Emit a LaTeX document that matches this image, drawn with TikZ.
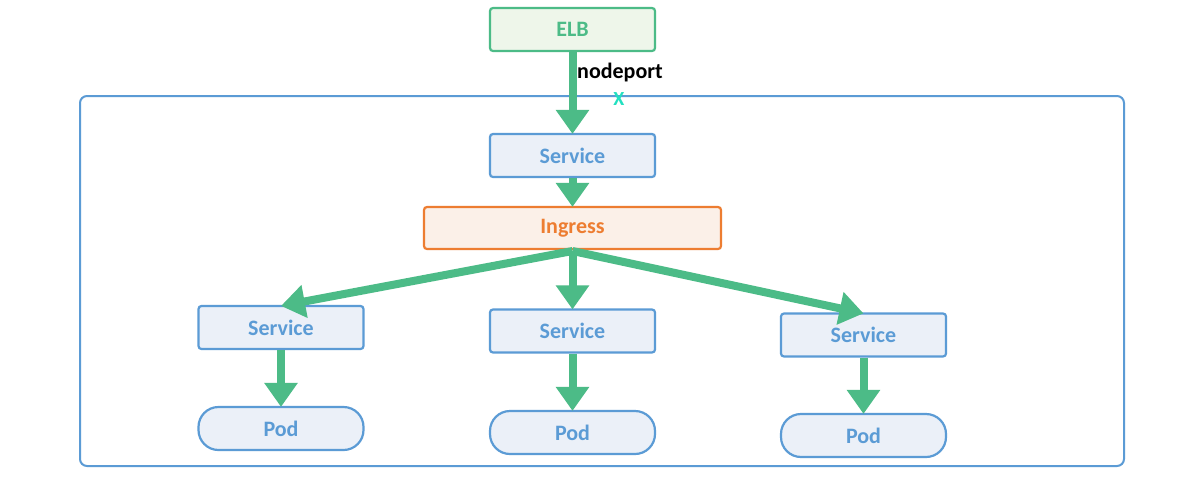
\documentclass[tikz,border=0pt]{standalone}
\usepackage{fontspec}
\setmainfont{Carlito}
\usetikzlibrary{arrows.meta}
\definecolor{grn}{HTML}{4CBB87}
\definecolor{grnfill}{HTML}{EEF6EA}
\definecolor{blu}{HTML}{5B9BD5}
\definecolor{blufill}{HTML}{EBF0F8}
\definecolor{org}{HTML}{ED7D31}
\definecolor{orgfill}{HTML}{FBF0E8}
\definecolor{cyn}{HTML}{22E0C0}
\tikzset{
  box/.style={draw=blu, fill=blufill, line width=2.2pt, rounded corners=3pt, minimum width=165pt, minimum height=43pt, inner sep=0pt, text=blu, font=\fontsize{22}{26}\selectfont\bfseries},
  podbox/.style={box, rounded corners=20pt},
  elbbox/.style={box, draw=grn, fill=grnfill, text=grn},
  ingbox/.style={box, draw=org, fill=orgfill, text=org, minimum width=297pt, minimum height=42pt},
  flow/.style={draw=grn, line width=8pt, -{Triangle[width=32pt,length=24pt]}},
}
\begin{document}
\begin{tikzpicture}[x=1pt,y=-1pt]
\useasboundingbox[fill=white] (0,0) rectangle (1184,488);
\draw[blu, line width=2pt, rounded corners=7pt] (80,96) rectangle (1124,466);
\node[elbbox] (elb) at (572.5,29.5) {ELB};
\node[box] (s0) at (572.5,155.5) {Service};
\node[ingbox] (ing) at (572.5,228) {Ingress};
\node[box] (s1) at (281,327.5) {Service};
\node[box] (s2) at (572.5,331) {Service};
\node[box] (s3) at (863.5,335) {Service};
\node[podbox] (p1) at (281,428.5) {Pod};
\node[podbox] (p2) at (572.5,432.5) {Pod};
\node[podbox] (p3) at (863.5,435.5) {Pod};
\node[anchor=west, inner sep=0pt, font=\fontsize{22}{26}\selectfont\bfseries] (np) at (577,73) {nodeport};
\node[inner sep=0pt, text=cyn, font=\fontsize{20}{24}\selectfont\bfseries] (x) at (619,99) {X};
\draw[flow] (elb.south) -- ([yshift=-1pt]s0.north);
\draw[flow] (s0.south) -- ([yshift=-1pt]ing.north);
\coordinate (ib) at (572.5,251);
\draw[flow] (ib) -- ([yshift=-1pt]s1.north);
\draw[flow] (ib) -- ([yshift=-1pt]s2.north);
\draw[flow] (ib) -- ([yshift=-1pt]s3.north);
\draw[flow] (s1.south) -- ([yshift=-1pt]p1.north);
\draw[flow] (s2.south) -- ([yshift=-1pt]p2.north);
\draw[flow] (s3.south) -- ([yshift=-1pt]p3.north);
\end{tikzpicture}
\end{document}
